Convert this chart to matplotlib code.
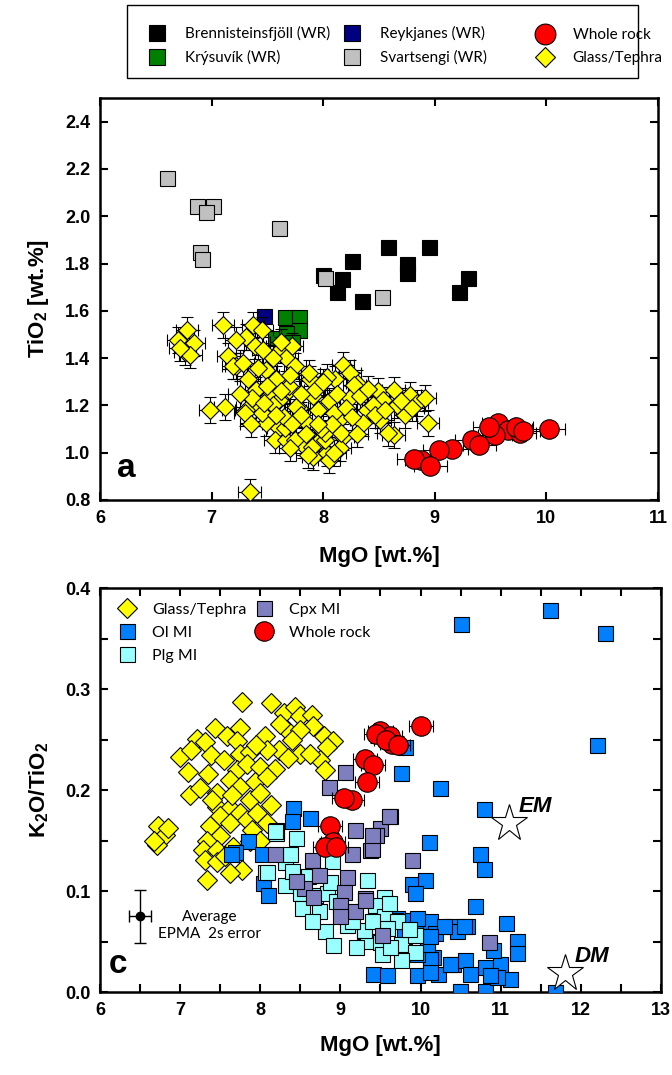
import numpy as np
import matplotlib
matplotlib.use('Agg')
import matplotlib.pyplot as plt
from matplotlib.lines import Line2D
from matplotlib.patches import Rectangle

plt.rcParams['font.family'] = ['Liberation Sans', 'DejaVu Sans']
plt.rcParams['mathtext.fontset'] = 'custom'
plt.rcParams['mathtext.bf'] = 'Liberation Sans:bold'
plt.rcParams['mathtext.rm'] = 'Liberation Sans'

# ---- panel a : TiO2 vs MgO (MgO, TiO2) ----
bren_a = [(8.00, 1.75), (8.26, 1.81), (8.17, 1.735), (8.12, 1.68), (8.35, 1.64), (8.58, 1.87),
          (8.75, 1.80), (8.75, 1.76), (8.95, 1.87), (9.30, 1.74), (9.22, 1.68)]
svart_a = [(6.60, 2.16), (6.87, 2.045), (7.01, 2.045), (6.95, 2.02), (6.90, 1.85), (6.91, 1.82),
           (7.60, 1.95), (8.02, 1.74), (8.53, 1.66)]
reyk_a = [(7.47, 1.58)]
kry_a = [(7.66, 1.575), (7.78, 1.575), (7.78, 1.52), (7.57, 1.485), (7.67, 1.505), (7.72, 1.47)]
wr_a = [(10.02, 1.10), (9.57, 1.125), (9.66, 1.097), (9.54, 1.075), (9.76, 1.083), (9.49, 1.11),
        (9.73, 1.11), (9.79, 1.09), (9.33, 1.054), (9.40, 1.033), (9.15, 1.015), (9.04, 1.012),
        (8.88, 0.97), (8.81, 0.972), (8.96, 0.944)]
glass_a = [(6.78, 1.52), (6.70, 1.478), (6.84, 1.464), (6.76, 1.428), (6.81, 1.414), (6.72, 1.443),
           (7.10, 1.54), (7.37, 1.54), (7.31, 1.49), (7.22, 1.478), (7.39, 1.45), (7.15, 1.407),
           (7.22, 1.365), (7.19, 1.365), (7.46, 1.436), (7.61, 1.436), (7.72, 1.45), (7.67, 1.40),
           (7.75, 1.365), (7.49, 1.35), (7.40, 1.266), (7.52, 1.245), (7.69, 1.266), (7.78, 1.19),
           (7.85, 1.13), (7.43, 1.19), (7.49, 1.125), (7.60, 1.104), (7.33, 1.31), (7.58, 1.31),
           (7.88, 1.31), (7.91, 1.24), (6.99, 1.18), (7.12, 1.195), (7.31, 1.18), (7.57, 1.054),
           (7.67, 1.054), (7.82, 1.033), (7.94, 1.04), (7.91, 0.983), (8.18, 1.372), (8.11, 1.31),
           (8.30, 1.294), (8.24, 1.337), (8.03, 1.322), (8.49, 1.259), (8.63, 1.266), (8.54, 1.224),
           (8.78, 1.245), (8.84, 1.21), (8.91, 1.23), (8.94, 1.125), (8.73, 1.16), (8.63, 1.075),
           (8.39, 1.18), (8.24, 1.23), (8.14, 1.14), (8.18, 1.068), (8.03, 0.998), (8.02, 1.054),
           (7.93, 1.266), (8.51, 1.14), (8.66, 1.20), (8.36, 1.125), (7.34, 0.835), (8.05, 0.97),
           (8.15, 1.02), (7.66, 1.104), (7.76, 1.195), (8.28, 1.287), (8.58, 1.083), (8.02, 1.083),
           (7.90, 1.026), (7.75, 1.054), (7.45, 1.167), (7.30, 1.167), (7.87, 1.337), (7.69, 1.28),
           (7.60, 1.224), (8.16, 1.083), (7.55, 1.20), (7.65, 1.15), (7.80, 1.25), (7.95, 1.18),
           (8.05, 1.22), (8.10, 1.17), (7.98, 1.10), (8.20, 1.19), (8.33, 1.24), (8.45, 1.20),
           (7.70, 1.33), (7.50, 1.28), (7.36, 1.23), (7.85, 1.08), (8.08, 1.12), (8.40, 1.27),
           (8.70, 1.22), (8.80, 1.19), (7.62, 1.47), (7.45, 1.52), (7.25, 1.25), (7.28, 1.38),
           (7.42, 1.36), (7.55, 1.40), (7.58, 1.16), (7.72, 1.12), (7.80, 1.16), (7.95, 1.12),
           (8.00, 1.30), (8.12, 1.25), (8.26, 1.15), (8.30, 1.08), (8.46, 1.16), (8.55, 1.18),
           (7.70, 1.02), (7.86, 0.99), (8.10, 1.00), (7.62, 1.26), (7.47, 1.21), (7.35, 1.12)]

# ---- panel c : K2O/TiO2 vs MgO ----
glass_c = [(7.77, 0.287), (8.14, 0.286), (8.29, 0.276), (8.43, 0.282), (8.50, 0.273), (8.64, 0.274),
           (8.66, 0.263), (8.79, 0.253), (8.91, 0.249), (8.83, 0.243), (8.75, 0.230), (8.81, 0.220),
           (8.33, 0.259), (8.50, 0.259), (8.23, 0.240), (8.06, 0.253), (8.08, 0.240), (8.50, 0.236),
           (8.62, 0.236), (7.75, 0.261), (7.44, 0.261), (7.21, 0.251), (7.31, 0.248), (7.58, 0.253),
           (7.71, 0.249), (7.00, 0.233), (7.14, 0.240), (7.39, 0.235), (7.75, 0.236), (7.87, 0.238),
           (7.10, 0.218), (7.35, 0.216), (7.71, 0.220), (7.83, 0.226), (8.00, 0.223), (8.18, 0.221),
           (7.12, 0.195), (7.25, 0.202), (7.46, 0.197), (7.62, 0.210), (7.75, 0.203), (7.94, 0.208),
           (8.08, 0.213), (7.87, 0.190), (8.00, 0.197), (8.14, 0.185), (7.46, 0.183), (7.62, 0.182),
           (7.75, 0.177), (7.50, 0.174), (7.37, 0.164), (7.50, 0.154), (7.62, 0.167), (7.83, 0.170),
           (7.96, 0.177), (8.08, 0.167), (7.33, 0.150), (7.29, 0.141), (7.46, 0.141), (7.66, 0.144),
           (7.87, 0.150), (7.31, 0.131), (7.46, 0.129), (7.77, 0.121), (7.62, 0.118), (7.33, 0.111),
           (6.73, 0.164), (6.81, 0.155), (6.71, 0.146), (6.67, 0.150), (6.85, 0.162), (7.55, 0.230),
           (7.95, 0.245), (8.35, 0.232), (7.90, 0.160), (7.56, 0.135), (8.00, 0.150), (7.40, 0.190),
           (7.65, 0.195), (8.25, 0.265), (8.40, 0.250)]
ol_c = [(10.50, 0.364), (11.61, 0.378), (12.30, 0.355), (12.20, 0.245), (9.75, 0.217), (9.80, 0.243),
        (10.24, 0.202), (10.79, 0.181), (10.11, 0.149), (10.74, 0.137), (10.79, 0.122), (9.89, 0.107),
        (10.06, 0.111), (9.93, 0.098), (10.68, 0.085), (11.06, 0.068), (11.20, 0.051), (11.20, 0.039),
        (10.49, 0.001), (10.80, 0.001), (11.68, 0.000), (9.41, 0.018), (9.58, 0.017), (9.95, 0.017),
        (10.22, 0.018), (10.41, 0.028), (10.56, 0.032), (10.80, 0.025), (10.99, 0.028), (11.12, 0.013),
        (10.95, 0.015), (10.62, 0.018), (10.16, 0.035), (9.85, 0.071), (9.97, 0.070), (10.12, 0.070),
        (10.37, 0.065), (10.58, 0.065), (10.18, 0.058), (10.08, 0.043), (10.12, 0.033), (10.45, 0.060),
        (10.91, 0.042), (10.87, 0.017), (8.41, 0.182), (8.39, 0.169), (8.62, 0.172), (7.85, 0.150),
        (8.02, 0.137), (7.69, 0.139), (7.64, 0.137), (8.04, 0.108), (8.10, 0.096), (10.12, 0.020),
        (9.70, 0.073), (9.95, 0.073), (10.29, 0.065), (10.54, 0.065), (9.95, 0.038), (10.37, 0.028),
        (10.08, 0.048), (9.79, 0.055), (10.12, 0.055), (8.20, 0.160)]
plg_c = [(8.20, 0.157), (8.45, 0.152), (8.31, 0.129), (8.06, 0.119), (8.31, 0.106), (8.50, 0.098),
         (8.68, 0.096), (8.73, 0.080), (8.52, 0.083), (8.81, 0.060), (8.91, 0.047), (8.83, 0.098),
         (9.02, 0.080), (9.08, 0.066), (9.29, 0.060), (9.33, 0.051), (9.50, 0.050), (9.33, 0.111),
         (9.54, 0.094), (9.43, 0.086), (9.68, 0.071), (9.54, 0.075), (9.75, 0.048), (9.52, 0.038),
         (9.93, 0.056), (9.93, 0.040), (9.75, 0.032), (8.87, 0.109), (8.18, 0.159), (8.08, 0.119),
         (8.37, 0.137), (9.70, 0.070), (9.58, 0.063), (9.62, 0.045), (9.29, 0.061), (8.60, 0.115),
         (8.95, 0.090), (9.15, 0.070), (9.40, 0.070), (8.65, 0.070), (8.40, 0.120), (9.20, 0.045),
         (9.85, 0.062), (8.90, 0.130), (9.60, 0.088)]
cpx_c = [(8.86, 0.203), (9.62, 0.174), (9.50, 0.162), (9.45, 0.155), (9.18, 0.160), (9.37, 0.141),
         (9.14, 0.137), (9.89, 0.131), (8.18, 0.137), (8.64, 0.131), (8.73, 0.116), (9.08, 0.114),
         (8.54, 0.103), (8.66, 0.094), (9.04, 0.099), (9.00, 0.086), (9.31, 0.093), (9.18, 0.080),
         (9.00, 0.075), (9.52, 0.056), (9.06, 0.218), (9.39, 0.142), (10.85, 0.050), (9.31, 0.091),
         (9.60, 0.174), (8.45, 0.110), (9.40, 0.155)]
wr_c = [(10.00, 0.263), (9.50, 0.258), (9.62, 0.253), (9.64, 0.246), (9.31, 0.231), (9.41, 0.225),
        (9.33, 0.208), (9.14, 0.190), (9.04, 0.192), (9.45, 0.255), (9.57, 0.250), (9.72, 0.245),
        (8.87, 0.164), (8.91, 0.149), (8.81, 0.144), (8.95, 0.144)]
end_members = [('EM', 11.10, 0.167), ('DM', 11.80, 0.0185)]

a_xticks = [6, 7, 8, 9, 10, 11]
a_yticks = [0.8, 1.0, 1.2, 1.4, 1.6, 1.8, 2.0, 2.2, 2.4]
c_xticks = [6, 7, 8, 9, 10, 11, 12, 13]
c_yticks = [0.0, 0.1, 0.2, 0.3, 0.4]

YELLOW = '#ffff00'
RED = '#ff0000'
OL = '#0080ff'
PLG = '#99ffff'
CPX = '#7f7fbf'


def xy(pts):
    return np.array(pts, dtype=float).T


def style_axis(ax, xt, yt, xfmt, yfmt):
    for s in ax.spines.values():
        s.set_linewidth(1.8)
    ax.set_xticks(xt, [xfmt.format(v) for v in xt], fontweight='bold', fontsize=13)
    ax.set_yticks(yt, [yfmt.format(v) for v in yt], fontweight='bold', fontsize=13)
    ax.tick_params(which='both', direction='in', top=True, right=True, width=1.5, length=6, pad=7)


fig = plt.figure(figsize=(6.72, 10.75), dpi=100)
axa = fig.add_axes([0.1488, 0.5349, 0.8304, 0.3739])
axc = fig.add_axes([0.1488, 0.0772, 0.8348, 0.3758])

# ---------------- panel a ----------------
sq = dict(marker='s', ls='none', ms=10.8, mec='black', mew=0.8)
x, y = xy(bren_a)
axa.plot(x, y, mfc='black', zorder=2, **sq)
x, y = xy(svart_a)
axa.plot(x, y, mfc='#c0c0c0', zorder=2, **sq)
x, y = xy(reyk_a)
axa.plot(x, y, mfc='#000080', zorder=2, **sq)
x, y = xy(kry_a)
axa.plot(x, y, mfc='#008000', zorder=2, **sq)

# glass drawn one by one so error bars interleave like the original
for gx, gy in glass_a:
    axa.errorbar(gx, gy, xerr=0.1, yerr=0.055, fmt='D', ms=9.6, mfc=YELLOW, mec='black', mew=0.8,
                 ecolor='black', elinewidth=0.8, capsize=4.5, capthick=0.8, zorder=3)
for wx, wy in wr_a:
    axa.errorbar(wx, wy, xerr=0.15, yerr=0.015, fmt='o', ms=14, mfc=RED, mec='black', mew=0.8,
                 ecolor='black', elinewidth=0.8, capsize=4.5, capthick=0.8, zorder=4)

axa.set_xlim(6, 11)
axa.set_ylim(0.8, 2.5)
style_axis(axa, a_xticks, a_yticks, '{:g}', '{:.1f}')
axa.set_xlabel('MgO [wt.%]', fontsize=16, fontweight='bold', labelpad=14)
axa.set_ylabel('TiO$_\\mathbf{2}$ [wt.%]', fontsize=16, fontweight='bold', labelpad=10)
axa.text(0.03, 0.04, 'a', transform=axa.transAxes, fontsize=24, fontweight='bold', va='bottom')

# legend above panel a: three evenly spaced columns inside one box
sq_leg = dict(sq, ms=11.5)
leg_cols = [
    ([Line2D([], [], mfc='black', **sq_leg), Line2D([], [], mfc='#008000', **sq_leg)],
     ['Brennisteinsfjöll (WR)', 'Krýsuvík (WR)'], 145, 26),
    ([Line2D([], [], mfc='#000080', **sq_leg), Line2D([], [], mfc='#c0c0c0', **sq_leg)],
     ['Reykjanes (WR)', 'Svartsengi (WR)'], 340, 26),
    ([Line2D([], [], marker='o', ls='none', ms=15, mfc=RED, mec='black', mew=0.8),
      Line2D([], [], marker='D', ls='none', ms=10.5, mfc=YELLOW, mec='black', mew=0.8)],
     ['Whole rock', 'Glass/Tephra'], 533, 28),
]
W, H = 672.0, 1075.0
for handles, labels, x0, y0 in leg_cols:
    lg = fig.legend(handles, labels, loc='upper left', bbox_to_anchor=(x0 / W, 1 - y0 / H),
                    frameon=False, prop={'family': 'Lato', 'size': 11}, handlelength=1.6,
                    handletextpad=1.0, borderpad=0, borderaxespad=0, labelspacing=0.6)
fig.patches.append(Rectangle((127 / W, 1 - 78 / H), 511 / W, 73 / H, transform=fig.transFigure,
                             fill=False, edgecolor='black', linewidth=1.0))

# ---------------- panel c ----------------
dia = dict(marker='D', ls='none', ms=10, mec='black', mew=0.8)
x, y = xy(glass_c)
axc.plot(x, y, mfc=YELLOW, zorder=2, **dia)
x, y = xy(ol_c)
axc.plot(x, y, mfc=OL, zorder=3, **sq)
x, y = xy(plg_c)
axc.plot(x, y, mfc=PLG, zorder=4, **sq)
x, y = xy(cpx_c)
axc.plot(x, y, mfc=CPX, zorder=5, **sq)
for wx, wy in wr_c:
    axc.errorbar(wx, wy, xerr=0.15, yerr=0.008, fmt='o', ms=14, mfc=RED, mec='black', mew=0.8,
                 ecolor='black', elinewidth=0.8, capsize=4.5, capthick=0.8, zorder=6)

for name, ex, ey in end_members:
    axc.plot(ex, ey, marker='*', ms=28, mfc='white', mec='black', mew=0.8, zorder=7)
    axc.text(ex + 0.12, ey + 0.017, name, fontsize=16, fontweight='bold', style='italic',
             va='center', ha='left', zorder=7)

axc.errorbar(6.5, 0.075, xerr=0.14, yerr=0.026, fmt='o', color='black', ms=6,
             elinewidth=1, capsize=4, zorder=7)
axc.text(7.37, 0.066, 'Average\nEPMA  2s error', ha='center', va='center',
         fontsize=11, family='Lato', linespacing=1.25)

axc.set_xlim(6, 13)
axc.set_ylim(0, 0.4)
style_axis(axc, c_xticks, c_yticks, '{:g}', '{:.1f}')
axc.set_xticks(np.arange(6, 13.01, 0.5), minor=True)
axc.set_yticks(np.arange(0, 0.401, 0.05), minor=True)
axc.set_xlabel('MgO [wt.%]', fontsize=16, fontweight='bold', labelpad=12)
axc.set_ylabel('K$_\\mathbf{2}$O/TiO$_\\mathbf{2}$', fontsize=16, fontweight='bold', labelpad=10)
axc.text(0.015, 0.03, 'c', transform=axc.transAxes, fontsize=24, fontweight='bold', va='bottom')

leg_c = [Line2D([], [], mfc=YELLOW, **dia), Line2D([], [], mfc=OL, **sq),
         Line2D([], [], mfc=PLG, **sq), Line2D([], [], mfc=CPX, **sq),
         Line2D([], [], marker='o', ls='none', ms=14, mfc=RED, mec='black', mew=0.8)]
lab_c = ['Glass/Tephra', 'Ol MI', 'Plg MI', 'Cpx MI', 'Whole rock']
axc.legend(leg_c, lab_c, ncol=2, loc='upper left', frameon=False, prop={'family': 'Lato', 'size': 11.5},
           handlelength=1.6, handletextpad=0.75, columnspacing=0.3, labelspacing=0.55,
           borderaxespad=0.5)

fig.savefig('out.png', dpi=100)
